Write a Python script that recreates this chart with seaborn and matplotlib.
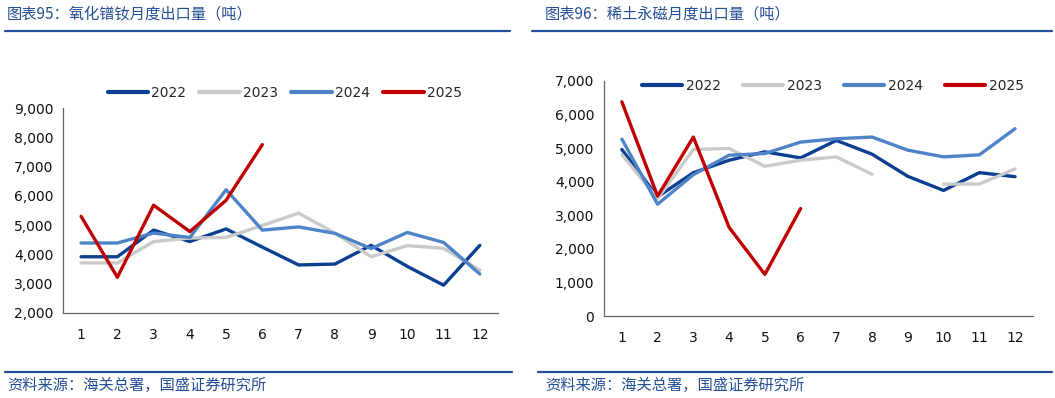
import seaborn as sns
import pandas as pd
import numpy as np
import matplotlib.pyplot as plt
from matplotlib.ticker import FuncFormatter, FixedLocator
from matplotlib.lines import Line2D

# data
months = list(range(1, 13))
years = ['2022', '2023', '2024', '2025']

# 氧化镨钕月度出口量 (吨)
prnd_2022 = [3920, 3920, 4830, 4440, 4870, 4250, 3640, 3670, 4310, 3590, 2950, 4310]
prnd_2023 = [3710, 3710, 4440, 4560, 4580, 4990, 5410, 4730, 3920, 4300, 4210, 3460]
prnd_2024 = [4390, 4390, 4730, 4580, 6210, 4830, 4940, 4720, 4200, 4750, 4410, 3330]
prnd_2025 = [5300, 3220, 5680, 4780, 5850, 7750]

# 稀土永磁月度出口量 (吨)
mag_2022 = [4960, 3550, 4270, 4640, 4890, 4710, 5230, 4820, 4160, 3740, 4270, 4150]
mag_2023 = [4810, 3500, 4960, 4990, 4460, 4640, 4740, 4220, np.nan, 3930, 3930, 4380]
mag_2024 = [5270, 3330, 4210, 4790, 4840, 5180, 5280, 5330, 4940, 4740, 4800, 5580]
mag_2025 = [6380, 3570, 5330, 2640, 1240, 3200]

palette = {'2022': '#0c3f92', '2023': '#cacaca', '2024': '#4f83c8', '2025': '#c00000'}
blue = '#254f96'


def long_frame(series):
    rows = []
    for yr, vals in zip(years, series):
        seg = 0
        for m, v in zip(months, vals):
            if pd.isna(v):
                seg += 1
                continue
            rows.append({'month': m, 'value': v, 'year': yr, 'seg': f'{yr}-{seg}'})
    return pd.DataFrame(rows)


df_left = long_frame([prnd_2022, prnd_2023, prnd_2024, prnd_2025])
df_right = long_frame([mag_2022, mag_2023, mag_2024, mag_2025])

sns.set_theme(style='white')
plt.rcParams['font.family'] = ['DejaVu Sans', 'Noto Sans CJK SC']

fig = plt.figure(figsize=(10.55, 3.98), dpi=100)
ax1 = fig.add_axes([0.0597, 0.2136, 0.4123, 0.515])
ax2 = fig.add_axes([0.5725, 0.206, 0.4066, 0.5905])


def style_axis(ax, df, ylo, yhi, leg_xy, colsp):
    sns.lineplot(data=df, x='month', y='value', hue='year', units='seg',
                 estimator=None, palette=palette, linewidth=2.4, ax=ax,
                 legend=False, sort=True)
    ax.set_xlim(0.5, 12.5)
    ax.set_ylim(ylo, yhi)
    ax.set_yticks(np.arange(ylo, yhi + 1, 1000))
    ax.yaxis.set_major_formatter(FuncFormatter(lambda v, p: f'{int(v):,}'))
    ax.set_xticks(months)
    ax.xaxis.set_minor_locator(FixedLocator(np.arange(0.5, 13, 1)))
    ax.tick_params(axis='x', which='major', length=0, pad=11, labelsize=10, colors='#111111')
    ax.tick_params(axis='x', which='minor', direction='in', length=4, width=0.8, color='#666666')
    ax.tick_params(axis='y', which='major', direction='out', length=4, width=0.8,
                   color='#666666', labelsize=10, labelcolor='#111111', pad=3)
    ax.set_xlabel('')
    ax.set_ylabel('')
    for s in ['top', 'right']:
        ax.spines[s].set_visible(False)
    for s in ['left', 'bottom']:
        ax.spines[s].set_color('#666666')
        ax.spines[s].set_linewidth(0.9)
    handles = [Line2D([], [], color=palette[y], lw=3) for y in years]
    ax.legend(handles, years, ncol=4, frameon=False, loc='center',
              bbox_to_anchor=leg_xy, handlelength=2.9, handletextpad=0.25,
              columnspacing=colsp, fontsize=10)


style_axis(ax1, df_left, 2000, 9000, (0.51, 1.073), 0.95)
style_axis(ax2, df_right, 0, 7000, (0.534, 0.979), 1.6)

cjk = ['Noto Sans CJK SC', 'DejaVu Sans']
fig.text(7 / 1055, 1 - 14 / 398, '图表95：氧化镨钕月度出口量（吨）', family=cjk,
         fontsize=11, color=blue, va='center', ha='left')
fig.text(545 / 1055, 1 - 14 / 398, '图表96：稀土永磁月度出口量（吨）', family=cjk,
         fontsize=11, color=blue, va='center', ha='left')
fig.text(7 / 1055, 1 - 385 / 398, '资料来源：海关总署，国盛证券研究所', family=cjk,
         fontsize=11, color=blue, va='center', ha='left')
fig.text(545 / 1055, 1 - 385 / 398, '资料来源：海关总署，国盛证券研究所', family=cjk,
         fontsize=11, color=blue, va='center', ha='left')

# rules under the titles and above the sources
for x0, x1, y in [(5, 510, 31), (532, 1052, 31), (5, 512, 372), (538, 1052, 372)]:
    fig.add_artist(Line2D([x0 / 1055, x1 / 1055], [1 - y / 398, 1 - y / 398],
                          color=blue, lw=1.6, transform=fig.transFigure))

plt.savefig('out.png', dpi=100)
